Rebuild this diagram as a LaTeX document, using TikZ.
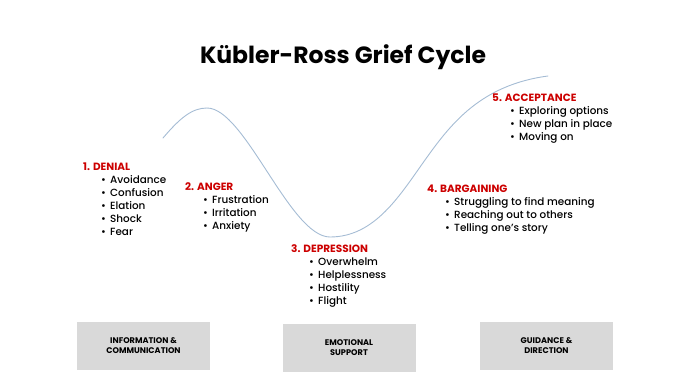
\documentclass[tikz,border=0pt]{standalone}
\usepackage{fontspec}
\setmainfont{Poppins}
\newfontfamily\itemfont{Poppins}[UprightFont=* Medium]
\usetikzlibrary{calc,positioning}
\definecolor{stagered}{RGB}{204,0,0}
\definecolor{curveblue}{RGB}{165,188,212}
\definecolor{boxgray}{RGB}{217,217,217}
\tikzset{
  stagehead/.style ={anchor=base west, inner sep=0pt, text=stagered,
                     font=\fontsize{10.5}{12}\selectfont\bfseries},
  stageitem/.style ={anchor=base west, inner sep=0pt,
                     font=\itemfont\fontsize{10.4}{12}\selectfont},
  supportbox/.style={rectangle, fill=boxgray, minimum width=133pt, minimum height=48pt,
                     inner sep=0pt, align=center, font=\fontsize{8.2}{10}\selectfont\bfseries},
  griefcurve/.style={curveblue, line width=0.9pt, line cap=round},
}
\begin{document}
\begin{tikzpicture}[x=1pt,y=-1pt]
\useasboundingbox (0,0) rectangle (696,391);
\node[font=\fontsize{23.5}{28}\selectfont\bfseries, anchor=base, inner sep=0pt] (title) at (343,63) {Kübler-Ross Grief Cycle};
% the curve
\coordinate (cstart) at (163,138);
\coordinate (cpeak)  at (207,108);
\coordinate (cmin)   at (330,237);
\coordinate (cturn)  at (425,160);
\coordinate (cend)   at (548,76);
\draw[griefcurve] (cstart) .. controls (180,118) and (192,108) .. (cpeak)
  .. controls (245,108) and (290,237) .. (cmin)
  .. controls (375,237) and (400,195) .. (cturn)
  .. controls (450,125) and (480,85) .. (cend);
% stages
\foreach \n/\x/\y/\lbl/\items in {
  denial/83/170/{1. DENIAL}/{Avoidance,Confusion,Elation,Shock,Fear},
  anger/185/190/{2. ANGER}/{Frustration,Irritation,Anxiety},
  depression/291/252/{3. DEPRESSION}/{Overwhelm,Helplessness,Hostility,Flight},
  bargaining/427/192/{4. BARGAINING}/{Struggling to find meaning,Reaching out to others,Telling one’s story},
  acceptance/492/101/{5. ACCEPTANCE}/{Exploring options,New plan in place,Moving on}} {
  \node[stagehead] (\n) at (\x,\y) {\lbl};
  \foreach \entry [count=\k] in \items
    \node[stageitem] (\n-\k) at ($(\n.base west)+(18,\k*13)$) {\makebox[9pt][l]{•}\entry};
}
% support boxes
\node[supportbox] (infobox)     at (143.5,346) {INFORMATION \&\\COMMUNICATION};
\node[supportbox] (emotionbox)  at (349,347.5) {EMOTIONAL\\SUPPORT};
\node[supportbox] (guidancebox) at (546.5,346) {GUIDANCE \&\\DIRECTION};
\end{tikzpicture}
\end{document}
